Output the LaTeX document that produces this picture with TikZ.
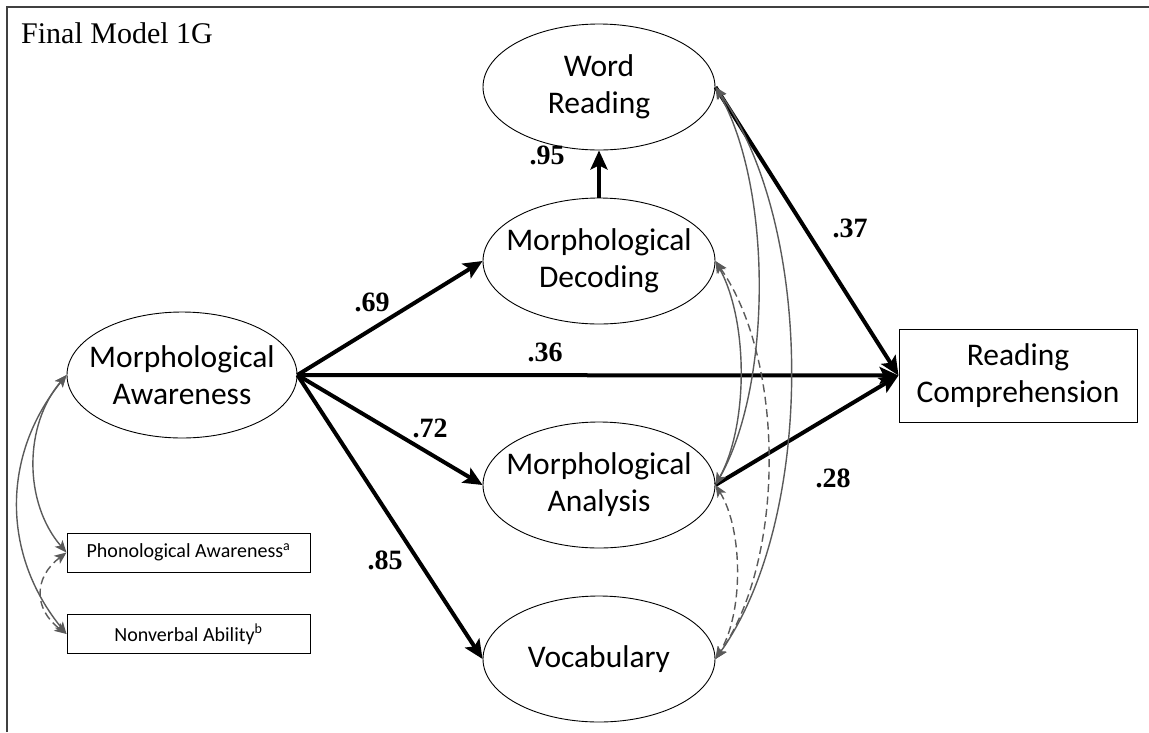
\documentclass[tikz,border=0pt]{standalone}
\usepackage{fontspec}
\setmainfont{Liberation Serif}
\newfontfamily\calfont{Carlito}
\usetikzlibrary{shapes.geometric,arrows.meta}
\definecolor{covgray}{HTML}{5A5A5A}
\newcommand\ctrbox[1]{\makebox[0pt]{#1}}
\begin{document}
\begin{tikzpicture}[x=1pt,y=-1pt,
  ell/.style={ellipse, draw, line width=0.9pt, minimum width=232pt, minimum height=126pt,
    inner sep=0pt, align=center, font=\calfont\fontsize{31.5}{37}\selectfont},
  bigbox/.style={rectangle, draw, line width=1pt, minimum width=238pt, minimum height=93pt,
    inner sep=0pt, align=center, font=\calfont\fontsize{31.5}{37}\selectfont},
  smallbox/.style={rectangle, draw, line width=1pt, minimum width=243pt, minimum height=39pt,
    inner sep=0pt, font=\calfont\fontsize{20}{24}\selectfont},
  path/.style={line width=4pt, -{Stealth[length=19pt,width=17pt,inset=4pt]}},
  cov/.style={draw=covgray, line width=1.4pt,
    {Stealth[length=12pt,width=10pt,inset=3pt]}-{Stealth[length=12pt,width=10pt,inset=3pt]}},
  covd/.style={cov, dash pattern=on 8pt off 4.5pt},
  coef/.style={font=\bfseries\fontsize{28}{30}\selectfont, inner sep=0pt}
]
\useasboundingbox (0,0) rectangle (1149,732);
\draw[line width=1.4pt, draw=black!75] (7,732) -- (7,7) -- (1149,7);

\node[anchor=base west, inner sep=0pt, font=\fontsize{30}{36}\selectfont] (title) at (21,43) {Final Model 1G};

\node[ell] (WR)  at (599,87)  {\ctrbox{Word}\\\ctrbox{Reading}};
\node[ell] (MD)  at (599,261) {\ctrbox{Morphological}\\\ctrbox{Decoding}};
\node[ell] (MAn) at (599,485) {\ctrbox{Morphological}\\\ctrbox{Analysis}};
\node[ell] (Voc) at (599,659) {\ctrbox{Vocabulary}};
\node[ell, minimum width=230pt] (MA) at (182,375) {\ctrbox{Morphological}\\\ctrbox{Awareness}};
\node[bigbox] (RC) at (1018,375.5) {Reading\\Comprehension};
\node[smallbox] (PA) at (188.5,552.5) {Phonological Awareness\textsuperscript{a}};
\node[smallbox] (NV) at (188.5,634) {Nonverbal Ability\textsuperscript{b}};

% structural paths
\draw[path] (MA.east) -- (MD.west);
\draw[path] (MA.east) -- (RC.west);
\draw[path] (MA.east) -- (MAn.west);
\draw[path] (MA.east) -- (Voc.west);
\draw[path] (MD.north) -- (WR.south);
\draw[path] (WR.east) -- (RC.west);
\draw[path] (MAn.east) -- (RC.west);

% coefficients
\node[coef] (c69) at (372,302) {.69};
\node[coef] (c36) at (545,352) {.36};
\node[coef] (c72) at (430,428) {.72};
\node[coef] (c85) at (385,560) {.85};
\node[coef] (c95) at (547,155) {.95};
\node[coef] (c37) at (850,228) {.37};
\node[coef] (c28) at (833,478) {.28};

% covariances right
\draw[cov]  (WR.east)  .. controls +(57,100) and +(57,-100) .. (MAn.east);
\draw[cov]  (WR.east)  .. controls +(100,140) and +(100,-140) .. (Voc.east);
\draw[cov]  (MD.east)  .. controls +(33,60) and +(33,-60) .. (MAn.east);
\draw[covd] (MD.east)  .. controls +(70,100) and +(70,-100) .. (Voc.east);
\draw[covd] (MAn.east) .. controls +(28,45) and +(28,-45) .. (Voc.east);

% covariances left
\draw[cov]  (MA.west) .. controls +(-43,50) and +(-43,-50) .. (PA.west);
\draw[cov]  (MA.west) .. controls +(-65,80) and +(-65,-80) .. (NV.west);
\draw[covd] (PA.west) .. controls +(-33,25) and +(-33,-25) .. (NV.west);
\end{tikzpicture}
\end{document}
